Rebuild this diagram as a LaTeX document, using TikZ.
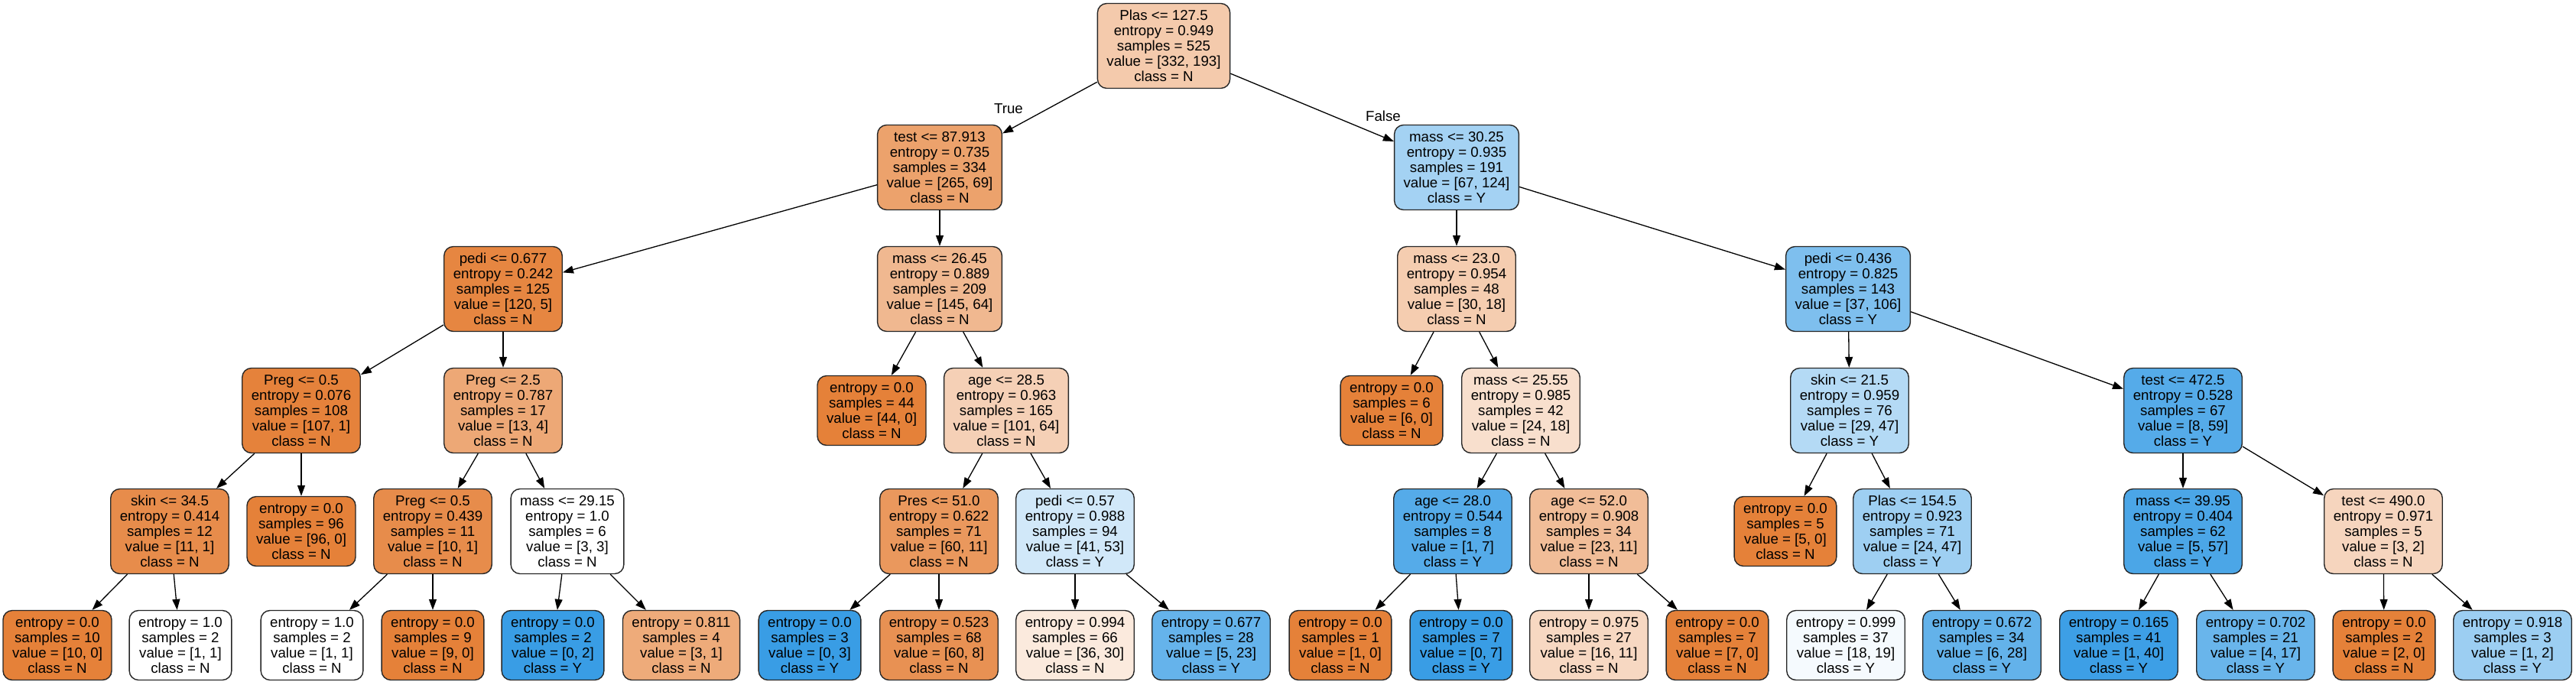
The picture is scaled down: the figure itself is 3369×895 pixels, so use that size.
\documentclass[tikz,border=0pt]{standalone}
\usepackage{fontspec}
\setmainfont{Liberation Sans}
\usetikzlibrary{arrows.meta}
\definecolor{cN}{RGB}{229,129,57}
\definecolor{cY}{RGB}{57,157,229}
\begin{document}
\begin{tikzpicture}[x=0.5pt,y=-0.5pt,
  tn/.style={draw=black!85, line width=0.7pt, rounded corners=6pt, align=center,
    inner xsep=6pt, inner ysep=0pt, minimum height=55.5pt,
    font=\fontsize{9.35}{10}\selectfont},
  lf/.style={tn, minimum height=45.5pt},
  elab/.style={font=\fontsize{9.35}{10}\selectfont, inner sep=0pt},
  edge/.style={draw=black, line width=0.65pt, -{Triangle[length=7pt,width=5pt]}}]
\useasboundingbox (0,0) rectangle (3369,895);
% level 0
\node[tn, fill=cN!42!white] (root) at (1522,60) {Plas <= 127.5\\entropy = 0.949\\samples = 525\\value = [332, 193]\\class = N};
% level 1
\node[tn, fill=cN!74!white] (t87) at (1229,219) {test <= 87.913\\entropy = 0.735\\samples = 334\\value = [265, 69]\\class = N};
\node[tn, fill=cY!46!white] (m30) at (1905,219) {mass <= 30.25\\entropy = 0.935\\samples = 191\\value = [67, 124]\\class = Y};
% level 2
\node[tn, fill=cN!96!white] (p677) at (658,378) {pedi <= 0.677\\entropy = 0.242\\samples = 125\\value = [120, 5]\\class = N};
\node[tn, fill=cN!56!white] (m26) at (1229,378) {mass <= 26.45\\entropy = 0.889\\samples = 209\\value = [145, 64]\\class = N};
\node[tn, fill=cN!40!white] (m23) at (1905,378) {mass <= 23.0\\entropy = 0.954\\samples = 48\\value = [30, 18]\\class = N};
\node[tn, fill=cY!65!white] (p436) at (2417,378) {pedi <= 0.436\\entropy = 0.825\\samples = 143\\value = [37, 106]\\class = Y};
% level 3
\node[tn, fill=cN!99!white] (pg05a) at (394,537) {Preg <= 0.5\\entropy = 0.076\\samples = 108\\value = [107, 1]\\class = N};
\node[tn, fill=cN!69!white] (pg25) at (658,537) {Preg <= 2.5\\entropy = 0.787\\samples = 17\\value = [13, 4]\\class = N};
\node[lf, fill=cN] (l44) at (1140,537) {entropy = 0.0\\samples = 44\\value = [44, 0]\\class = N};
\node[tn, fill=cN!37!white] (a285) at (1316,537) {age <= 28.5\\entropy = 0.963\\samples = 165\\value = [101, 64]\\class = N};
\node[lf, fill=cN] (l6) at (1820,537) {entropy = 0.0\\samples = 6\\value = [6, 0]\\class = N};
\node[tn, fill=cN!25!white] (m2555) at (1989,537) {mass <= 25.55\\entropy = 0.985\\samples = 42\\value = [24, 18]\\class = N};
\node[tn, fill=cY!38!white] (s215) at (2419,537) {skin <= 21.5\\entropy = 0.959\\samples = 76\\value = [29, 47]\\class = Y};
\node[tn, fill=cY!86!white] (t4725) at (2855,537) {test <= 472.5\\entropy = 0.528\\samples = 67\\value = [8, 59]\\class = Y};
% level 4
\node[tn, fill=cN!91!white] (s345) at (222,695) {skin <= 34.5\\entropy = 0.414\\samples = 12\\value = [11, 1]\\class = N};
\node[lf, fill=cN] (l96) at (394,695) {entropy = 0.0\\samples = 96\\value = [96, 0]\\class = N};
\node[tn, fill=cN!91!white] (pg05b) at (566,695) {Preg <= 0.5\\entropy = 0.439\\samples = 11\\value = [10, 1]\\class = N};
\node[tn, fill=white] (m2915) at (742,695) {mass <= 29.15\\entropy = 1.0\\samples = 6\\value = [3, 3]\\class = N};
\node[tn, fill=cN!82!white] (pr51) at (1228,695) {Pres <= 51.0\\entropy = 0.622\\samples = 71\\value = [60, 11]\\class = N};
\node[tn, fill=cY!23!white] (p057) at (1406,695) {pedi <= 0.57\\entropy = 0.988\\samples = 94\\value = [41, 53]\\class = Y};
\node[tn, fill=cY!86!white] (a28) at (1900,695) {age <= 28.0\\entropy = 0.544\\samples = 8\\value = [1, 7]\\class = Y};
\node[tn, fill=cN!52!white] (a52) at (2078,695) {age <= 52.0\\entropy = 0.908\\samples = 34\\value = [23, 11]\\class = N};
\node[lf, fill=cN] (l5) at (2335,695) {entropy = 0.0\\samples = 5\\value = [5, 0]\\class = N};
\node[tn, fill=cY!49!white] (pl1545) at (2501,695) {Plas <= 154.5\\entropy = 0.923\\samples = 71\\value = [24, 47]\\class = Y};
\node[tn, fill=cY!91!white] (m3995) at (2855,695) {mass <= 39.95\\entropy = 0.404\\samples = 62\\value = [5, 57]\\class = Y};
\node[tn, fill=cN!33!white] (t490) at (3117,695) {test <= 490.0\\entropy = 0.971\\samples = 5\\value = [3, 2]\\class = N};
% level 5 leaves
\node[lf, fill=cN] (q1) at (75,844) {entropy = 0.0\\samples = 10\\value = [10, 0]\\class = N};
\node[lf, fill=white] (q2) at (236,844) {entropy = 1.0\\samples = 2\\value = [1, 1]\\class = N};
\node[lf, fill=white] (q3) at (408,844) {entropy = 1.0\\samples = 2\\value = [1, 1]\\class = N};
\node[lf, fill=cN] (q4) at (566,844) {entropy = 0.0\\samples = 9\\value = [9, 0]\\class = N};
\node[lf, fill=cY] (q5) at (723,844) {entropy = 0.0\\samples = 2\\value = [0, 2]\\class = Y};
\node[lf, fill=cN!67!white] (q6) at (891,844) {entropy = 0.811\\samples = 4\\value = [3, 1]\\class = N};
\node[lf, fill=cY] (q7) at (1059,844) {entropy = 0.0\\samples = 3\\value = [0, 3]\\class = Y};
\node[lf, fill=cN!87!white] (q8) at (1228,844) {entropy = 0.523\\samples = 68\\value = [60, 8]\\class = N};
\node[lf, fill=cN!17!white] (q9) at (1406,844) {entropy = 0.994\\samples = 66\\value = [36, 30]\\class = N};
\node[lf, fill=cY!78!white] (q10) at (1584,844) {entropy = 0.677\\samples = 28\\value = [5, 23]\\class = Y};
\node[lf, fill=cN] (q11) at (1753,844) {entropy = 0.0\\samples = 1\\value = [1, 0]\\class = N};
\node[lf, fill=cY] (q12) at (1911,844) {entropy = 0.0\\samples = 7\\value = [0, 7]\\class = Y};
\node[lf, fill=cN!31!white] (q13) at (2078,844) {entropy = 0.975\\samples = 27\\value = [16, 11]\\class = N};
\node[lf, fill=cN] (q14) at (2246,844) {entropy = 0.0\\samples = 7\\value = [7, 0]\\class = N};
\node[lf, fill=cY!5!white] (q15) at (2414,844) {entropy = 0.999\\samples = 37\\value = [18, 19]\\class = Y};
\node[lf, fill=cY!79!white] (q16) at (2592,844) {entropy = 0.672\\samples = 34\\value = [6, 28]\\class = Y};
\node[lf, fill=cY!98!white] (q17) at (2771,844) {entropy = 0.165\\samples = 41\\value = [1, 40]\\class = Y};
\node[lf, fill=cY!76!white] (q18) at (2950,844) {entropy = 0.702\\samples = 21\\value = [4, 17]\\class = Y};
\node[lf, fill=cN] (q19) at (3118,844) {entropy = 0.0\\samples = 2\\value = [2, 0]\\class = N};
\node[lf, fill=cY!50!white] (q20) at (3286,844) {entropy = 0.918\\samples = 3\\value = [1, 2]\\class = Y};
% edge labels
\node[elab] (tlab) at (1319,142) {True};
\node[elab] (flab) at (1809,152) {False};
% edges
\foreach \a/\b in {root/t87, root/m30, t87/p677, t87/m26, m30/m23, m30/p436,
  p677/pg05a, p677/pg25, m26/l44, m26/a285, m23/l6, m23/m2555, p436/s215, p436/t4725,
  pg05a/s345, pg05a/l96, pg25/pg05b, pg25/m2915, a285/pr51, a285/p057,
  m2555/a28, m2555/a52, s215/l5, s215/pl1545, t4725/m3995, t4725/t490,
  s345/q1, s345/q2, pg05b/q3, pg05b/q4, m2915/q5, m2915/q6, pr51/q7, pr51/q8,
  p057/q9, p057/q10, a28/q11, a28/q12, a52/q13, a52/q14, pl1545/q15, pl1545/q16,
  m3995/q17, m3995/q18, t490/q19, t490/q20}
  \draw[edge] (\a) -- (\b);
\end{tikzpicture}
\end{document}
